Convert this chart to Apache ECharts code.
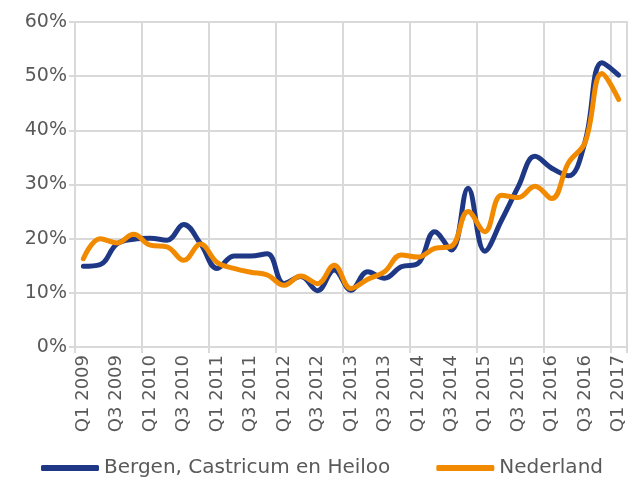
<!DOCTYPE html>
<html>
<head>
<meta charset="utf-8">
<script src="https://cdn.jsdelivr.net/npm/echarts@6/dist/echarts.min.js"></script>
<style>
  html, body { margin: 0; padding: 0; background: #fff; }
  #chart { width: 638px; height: 493px; }
</style>
</head>
<body>
<div id="chart"></div>
<script>
// kwartalen
var quarters = [
  "Q1 2009", "Q2 2009", "Q3 2009", "Q4 2009",
  "Q1 2010", "Q2 2010", "Q3 2010", "Q4 2010",
  "Q1 2011", "Q2 2011", "Q3 2011", "Q4 2011",
  "Q1 2012", "Q2 2012", "Q3 2012", "Q4 2012",
  "Q1 2013", "Q2 2013", "Q3 2013", "Q4 2013",
  "Q1 2014", "Q2 2014", "Q3 2014", "Q4 2014",
  "Q1 2015", "Q2 2015", "Q3 2015", "Q4 2015",
  "Q1 2016", "Q2 2016", "Q3 2016", "Q4 2016",
  "Q1 2017"
]

var bergen = [14.9, 15.2, 19.0, 19.9, 20.1, 19.7, 22.6, 19.1, 14.5, 16.8, 16.8, 17.2,
  11.7, 13.0, 10.4, 14.2, 10.5, 13.9, 12.7, 14.8, 15.4, 21.3, 17.9, 29.3,
  17.7, 23.4, 29.6, 35.2, 33.0, 31.6, 38.0, 52.5, 50.2]
var nederland = [16.3, 20.0, 19.2, 20.8, 18.8, 18.5, 16.0, 19.0, 15.6, 14.5, 13.8, 13.3,
  11.4, 13.1, 11.7, 15.1, 10.8, 12.5, 13.9, 17.0, 16.6, 18.2, 18.6, 25.0,
  21.3, 28.0, 27.6, 29.7, 27.4, 34.0, 37.8, 50.5, 45.7]

var seriesNames = ["Bergen, Castricum en Heiloo", "Nederland"]
var colors = ["#1f3885", "#f28a00"]

var gridColor = "#d9d9d9"
var textColor = "#595959"
var font = "DejaVu Sans"

var myChart = echarts.init(document.getElementById("chart"))
var option = {
  animation: false,
  color: colors,
  grid: {
    left: 75, right: 11, top: 22, bottom: 146,
    show: true, borderColor: gridColor, borderWidth: 2
  },
  legend: {
    left: 36, top: 453,
    itemWidth: 58, itemHeight: 6, itemGap: 46,
    icon: "roundRect",
    textStyle: { color: textColor, fontSize: 20, fontFamily: font },
    data: seriesNames
  },
  xAxis: {
    type: "category",
    boundaryGap: true,
    data: quarters,
    axisLine: { show: true, lineStyle: { color: gridColor, width: 2 } },
    axisTick: { show: true, interval: 3, length: 6, lineStyle: { color: gridColor, width: 2 } },
    splitLine: { show: true, interval: 3, lineStyle: { color: gridColor, width: 2 } },
    axisLabel: {
      interval: 1, rotate: 90, margin: 8,
      color: textColor, fontSize: 18, fontFamily: font
    }
  },
  yAxis: {
    type: "value",
    min: 0, max: 60, interval: 10,
    axisLine: { show: false },
    axisTick: { show: true, length: 6, lineStyle: { color: gridColor, width: 2 } },
    splitLine: { lineStyle: { color: gridColor, width: 2 } },
    axisLabel: {
      margin: 8, color: textColor, fontSize: 19, fontFamily: font,
      formatter: "{value}%"
    }
  },
  series: [
    {
      name: seriesNames[0], type: "line", data: bergen,
      smooth: 0.4, symbol: "none",
      lineStyle: { width: 5, color: colors[0], cap: "round", join: "round" }
    },
    {
      name: seriesNames[1], type: "line", data: nederland,
      smooth: 0.4, symbol: "none",
      lineStyle: { width: 5, color: colors[1], cap: "round", join: "round" }
    }
  ]
}
myChart.setOption(option)
</script>
</body>
</html>
